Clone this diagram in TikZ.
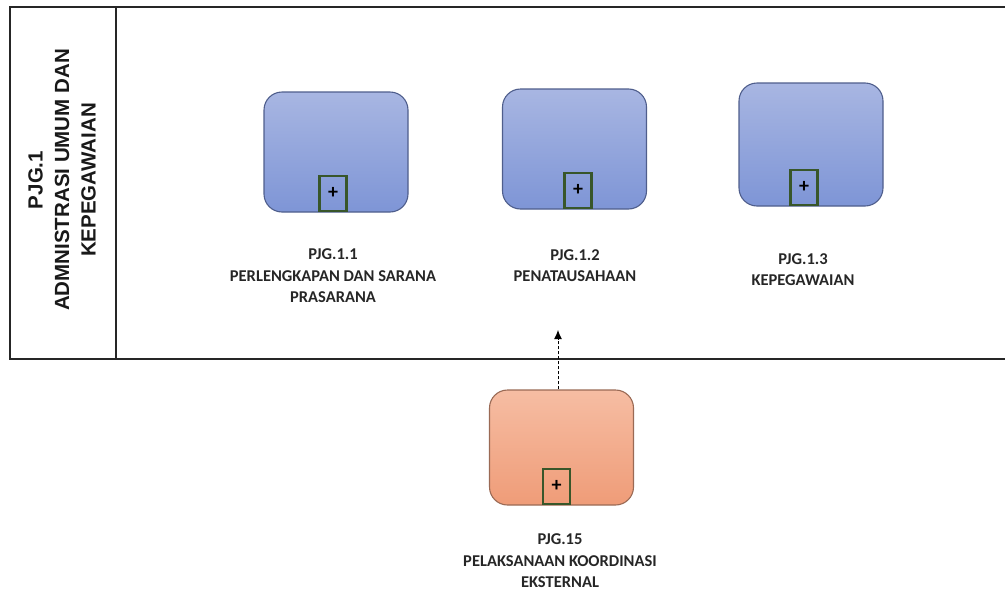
\documentclass[tikz,border=0pt]{standalone}
\usepackage{fontspec}
\setmainfont{Carlito}
\newfontfamily\lanefont{Liberation Sans}
\usetikzlibrary{arrows.meta}
\definecolor{taskTop}{HTML}{A8B6E2}
\definecolor{taskBot}{HTML}{7E95D6}
\definecolor{taskLine}{HTML}{4F5E8C}
\definecolor{extTop}{HTML}{F6BDA3}
\definecolor{extBot}{HTML}{EF9C78}
\definecolor{extLine}{HTML}{9A6A55}
\definecolor{markLine}{HTML}{38562A}
\begin{document}
\begin{tikzpicture}[x=1pt,y=-1pt,
  task/.style={rounded corners=18pt, draw=taskLine, line width=1.1pt,
    top color=taskTop, bottom color=taskBot, minimum width=144pt, minimum height=120pt, inner sep=0pt},
  exttask/.style={task, draw=extLine, top color=extTop, bottom color=extBot},
  marker/.style={draw=markLine, line width=2.2pt, minimum width=27pt, minimum height=35pt,
    inner sep=0pt, font=\bfseries\fontsize{20}{20}\selectfont, anchor=south},
  label/.style={align=center, font=\bfseries\fontsize{16.5}{21.5}\selectfont, text=black!85},
  pool/.style={line width=1.3pt, draw=black!85}]
\useasboundingbox (0,0) rectangle (1005,592);

% pool and lane header
\draw[pool] (1005,7) -- (10,7) -- (10,359) -- (1005,359);
\draw[pool] (116,7) -- (116,359);
\node[rotate=90, align=center, font=\lanefont\bfseries\fontsize{20.5}{26.5}\selectfont, text=black!90] (lane) at (62,180)
  {PJG.1\\ADMNISTRASI UMUM DAN\\KEPEGAWAIAN};

% sub-processes in the lane
\node[task] (b1) at (336,152) {};
\node[task] (b2) at (574.5,149) {};
\node[task, minimum height=123pt] (b3) at (811,144.5) {};
\node[marker] (m1) at (333,212) {+};
\node[marker] (m2) at (578,209) {+};
\node[marker] (m3) at (804,206) {+};

\node[label] (t1) at (333,276) {PJG.1.1\\PERLENGKAPAN DAN SARANA\\PRASARANA};
\node[label] (t2) at (575,265.5) {PJG.1.2\\PENATAUSAHAAN};
\node[label] (t3) at (803,269.5) {PJG.1.3\\KEPEGAWAIAN};

% external sub-process
\node[exttask, minimum height=115pt] (b4) at (561.5,447.5) {};
\node[marker] (m4) at (556.5,505) {+};
\node[label] (t4) at (560,561) {PJG.15\\PELAKSANAAN KOORDINASI\\EKSTERNAL};

\coordinate (tip) at (558,330);
\draw[dashed, line width=1pt, dash pattern=on 3pt off 2pt, -{Latex[length=9pt,width=8pt]}]
  (b4.north -| tip) -- (tip);
\end{tikzpicture}
\end{document}
